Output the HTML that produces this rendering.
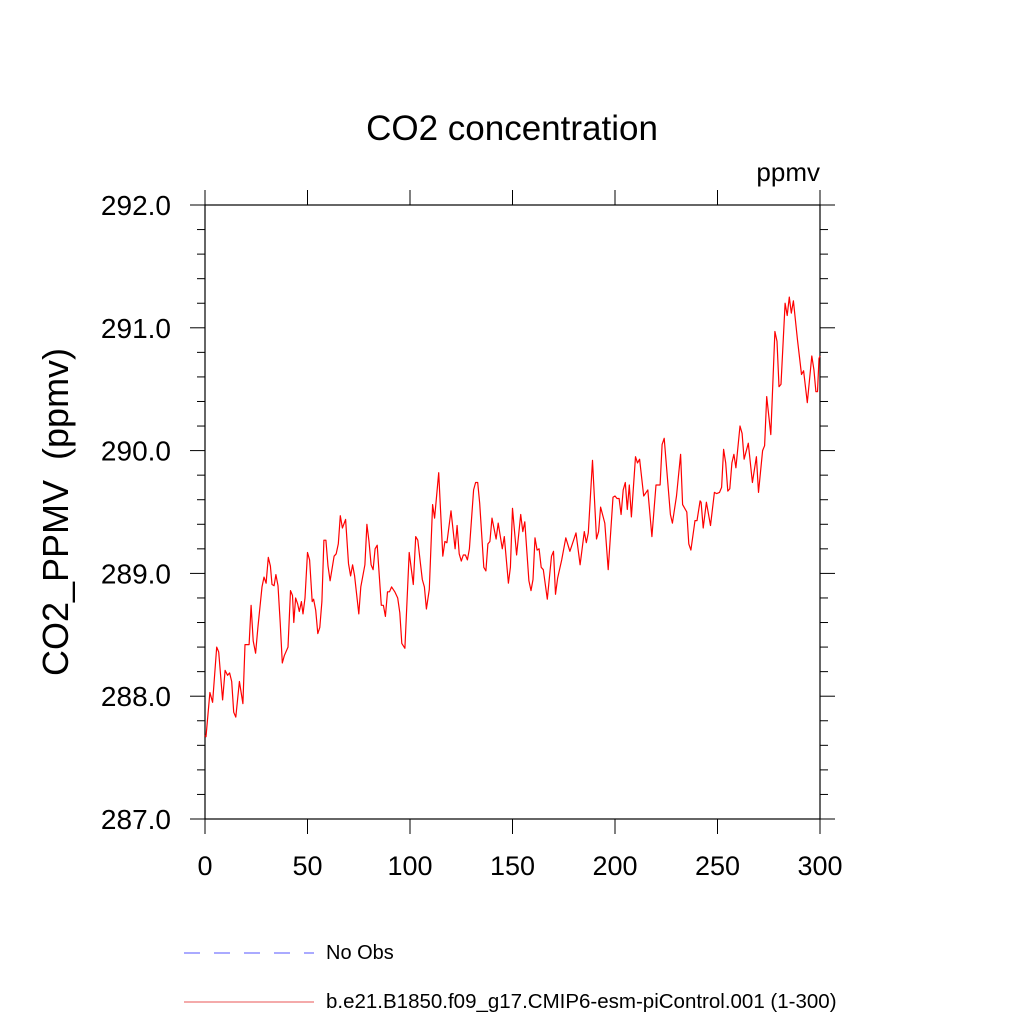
<!DOCTYPE html>
<html><head><meta charset="utf-8"><style>body{margin:0;background:#fff}svg{display:block}text{font-family:"Liberation Sans",sans-serif}</style></head>
<body>
<svg id="chart" width="1024" height="1024" viewBox="0 0 1024 1024" xmlns="http://www.w3.org/2000/svg">
<text x="512" y="140" font-size="35" text-anchor="middle">CO2 concentration</text>
<text x="820" y="181" font-size="26" text-anchor="end">ppmv</text>
<text transform="translate(68,512) rotate(-90)" font-size="36" text-anchor="middle">CO2_PPMV&#160; (ppmv)</text>
<g id="axes"></g>
<g id="series"></g>
<g>
<line x1="184" y1="953" x2="314" y2="953" stroke="#7777ff" stroke-width="1.2" stroke-dasharray="16,14"/>
<text x="326" y="959" font-size="20">No Obs</text>
<line x1="184" y1="1002" x2="314" y2="1002" stroke="#ee7777" stroke-width="1.2"/>
<text x="326" y="1008" font-size="20.5">b.e21.B1850.f09_g17.CMIP6-esm-piControl.001 (1-300)</text>
</g>
</svg>
<script>
const years=[0,0.5,2.4,3.7,5.7,6.7,8.6,9.8,11,12,13,14,15,16.8,18.5,19.5,21.5,22.5,23.5,24.7,25.8,27.8,28.8,29.8,30.9,31.9,32.7,33.7,34.6,35.6,36.7,37.7,38.7,40.5,41.7,42.7,43.3,44.2,45.2,46,47,47.8,48.8,50,51,52.3,53,54,55,56,57,58,59,60,61,62,63,64,65,66,67,68.6,70,71,72,73,75,76,78,79,80,81,82,83,84,86,87,88,89,90,91,92.6,94,95,96,97.5,99.6,101.6,102.8,103.8,105,106,107,108,109.4,111,112,114,116,117,118,120,122,123,124,125,126,127,128,129,131,132,133,134,136,137,138,139,140,142,143,145,146,148,149,150,152,154,155,156,158,159,160,161,162,163,164,165,167,169,170,171,172,174,176,178,181,183,185,186,187,189,191,192,193,195,196.7,199,200,201,202,203,204,205,206,207,208,210,211,212,214,216,218,220,222,223,224,227,228,230,232,233,235,236,237,239,240,241.5,242,243,244.6,246.6,248.5,249.6,251,252,253,254,255,256,257,258,259,261,262,263,265,267,269,270,272,273,274,276,278,279,280,281,283,284,285,286,287,289,291,292,293.8,296,297,298,298.8,299.5,300];
const co2=[287.68,287.67,288.03,287.95,288.40,288.36,287.97,288.21,288.17,288.19,288.12,287.87,287.83,288.12,287.94,288.42,288.42,288.74,288.45,288.35,288.56,288.89,288.97,288.92,289.13,289.06,288.91,288.90,288.99,288.90,288.60,288.27,288.33,288.40,288.86,288.82,288.60,288.80,288.75,288.69,288.77,288.67,288.80,289.17,289.11,288.77,288.79,288.70,288.51,288.56,288.77,289.27,289.27,289.06,288.94,289.04,289.14,289.16,289.24,289.47,289.37,289.44,289.08,288.98,289.07,288.98,288.67,288.89,289.07,289.40,289.26,289.07,289.03,289.20,289.23,288.74,288.74,288.65,288.85,288.85,288.89,288.85,288.80,288.68,288.43,288.39,289.17,288.91,289.30,289.27,289.09,288.95,288.89,288.71,288.87,289.56,289.45,289.82,289.14,289.26,289.25,289.51,289.20,289.39,289.16,289.10,289.15,289.15,289.11,289.20,289.68,289.74,289.74,289.57,289.05,289.02,289.24,289.26,289.45,289.28,289.41,289.20,289.30,288.92,289.05,289.53,289.15,289.48,289.34,289.42,288.94,288.86,288.95,289.29,289.19,289.20,289.05,289.03,288.79,289.14,289.18,288.83,288.96,289.11,289.29,289.18,289.33,289.07,289.34,289.25,289.33,289.92,289.28,289.34,289.54,289.41,289.03,289.62,289.63,289.61,289.61,289.48,289.68,289.74,289.52,289.72,289.46,289.95,289.90,289.93,289.63,289.68,289.30,289.72,289.72,290.05,290.10,289.48,289.41,289.63,289.97,289.56,289.50,289.24,289.19,289.43,289.43,289.59,289.58,289.37,289.58,289.39,289.66,289.65,289.66,289.70,290.01,289.90,289.67,289.69,289.90,289.97,289.86,290.20,290.14,289.93,290.06,289.74,289.95,289.66,290.00,290.04,290.44,290.13,290.97,290.89,290.52,290.54,291.20,291.10,291.25,291.12,291.22,290.90,290.62,290.65,290.39,290.77,290.66,290.48,290.48,290.75,290.77];
const xTicks=[0,50,100,150,200,250,300];
const yTicks=[287,288,289,290,291,292];
const yTickLabels=["287.0","288.0","289.0","290.0","291.0","292.0"];
const X0=205,X1=820,Y0=819,Y1=205;
const xs=v=>X0+(v-0)/300*(X1-X0);
const ys=v=>Y0-(v-287)/5*(Y0-Y1);
const NS="http://www.w3.org/2000/svg";
const ax=document.getElementById('axes');
function mk(tag,attrs,parent){const e=document.createElementNS(NS,tag);for(const k in attrs)e.setAttribute(k,attrs[k]);parent.appendChild(e);return e;}
const frame=mk('rect',{x:X0,y:Y1,width:X1-X0,height:Y0-Y1,fill:'none',stroke:'#000','stroke-width':1.2},ax);


xTicks.forEach(v=>{const L=15;const x=xs(v);
 const t1=mk('line',{x1:x,y1:Y0,x2:x,y2:Y0+L,stroke:'#000','stroke-width':1},ax);
 
 
 const t2=mk('line',{x1:x,y1:Y1,x2:x,y2:Y1-L,stroke:'#000','stroke-width':1},ax);
 
 });
for(let i=0;i<=25;i++){const v=287+i*0.2;const maj=i%5===0;const L=maj?15:8;const y=ys(v);
 const t1=mk('line',{x1:X0,y1:y,x2:X0-L,y2:y,stroke:'#000','stroke-width':1},ax);
 
 
 const t2=mk('line',{x1:X1,y1:y,x2:X1+L,y2:y,stroke:'#000','stroke-width':1},ax);
 
 }
xTicks.forEach(v=>{const t=mk('text',{x:xs(v),y:875,'font-size':27,'text-anchor':'middle'},ax);t.textContent=String(v);
 
 });
yTicks.forEach((v,i)=>{const t=mk('text',{x:171,y:ys(v)+10,'font-size':28,'text-anchor':'end'},ax);t.textContent=yTickLabels[i];
 
 });
const pts=years.map((y,i)=>xs(y).toFixed(1)+','+ys(co2[i]).toFixed(1)).join(' ');
const line=mk('polyline',{points:pts,fill:'none',stroke:'#ff0000','stroke-width':1.2,'stroke-linejoin':'round'},document.getElementById('series'));


</script>
</body></html>
